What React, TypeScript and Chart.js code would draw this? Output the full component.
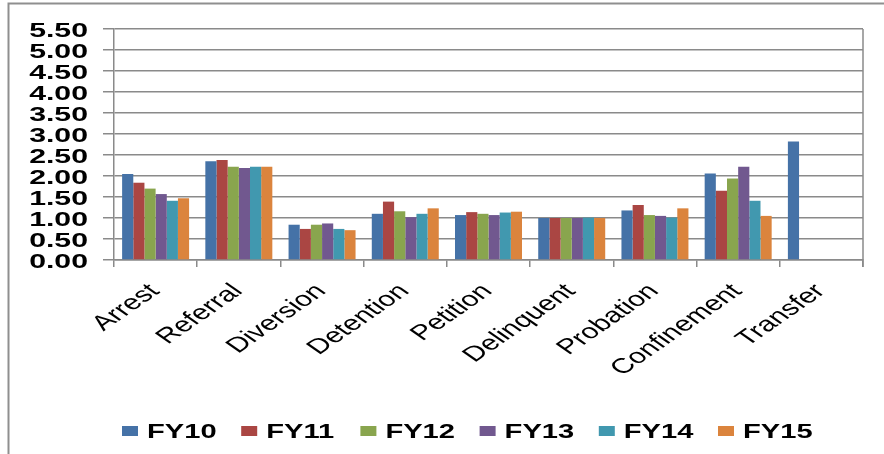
import { useEffect, useRef } from "react";
import { Chart, registerables } from "chart.js";

Chart.register(...registerables);

const categories = [
  "Arrest",
  "Referral",
  "Diversion",
  "Detention",
  "Petition",
  "Delinquent",
  "Probation",
  "Confinement",
  "Transfer",
];

const seriesNames = ["FY10", "FY11", "FY12", "FY13", "FY14", "FY15"];

const fy10 = [2.05, 2.35, 0.84, 1.1, 1.07, 1.0, 1.18, 2.06, 2.82];
const fy11 = [1.84, 2.38, 0.74, 1.39, 1.14, 1.0, 1.31, 1.65, null];
const fy12 = [1.7, 2.22, 0.84, 1.16, 1.1, 1.0, 1.07, 1.94, null];
const fy13 = [1.57, 2.19, 0.87, 1.02, 1.07, 1.0, 1.05, 2.22, null];
const fy14 = [1.41, 2.22, 0.74, 1.1, 1.13, 1.01, 1.01, 1.41, null];
const fy15 = [1.47, 2.22, 0.71, 1.23, 1.15, 1.0, 1.23, 1.05, null];

const seriesValues = [fy10, fy11, fy12, fy13, fy14, fy15];

const seriesColors = ["#4572A7", "#AA4643", "#89A54E", "#71588F", "#4198AF", "#DB843D"];

const yMin = 0;
const yMax = 5.5;
const yStep = 0.5;

const FONT = "'Liberation Sans', Arial, Helvetica, sans-serif";
const GRID = "#8a8a8a";
// the whole figure is set wide: text is drawn with this horizontal stretch
const WIDE = 1.44;

// Draws the wide-set axis labels, legend, plot border and outer frame.
const decorations = {
  id: "decorations",
  afterDraw(chart: any) {
    const ctx = chart.ctx as CanvasRenderingContext2D;
    const xs = chart.scales.x;
    const ys = chart.scales.y;
    const area = chart.chartArea;

    ctx.save();

    // right edge of the plot area
    ctx.strokeStyle = GRID;
    ctx.lineWidth = 1.5;
    ctx.beginPath();
    ctx.moveTo(area.right, area.top);
    ctx.lineTo(area.right, area.bottom + 7);
    ctx.stroke();

    // outer frame (left and top edges)
    ctx.strokeStyle = "#8f8f8f";
    ctx.lineWidth = 2;
    ctx.beginPath();
    ctx.moveTo(8.5, chart.height);
    ctx.lineTo(8.5, 3.5);
    ctx.lineTo(chart.width, 3.5);
    ctx.stroke();

    ctx.fillStyle = "#000";

    // value axis labels
    ctx.font = `bold 21px ${FONT}`;
    ctx.textAlign = "right";
    ctx.textBaseline = "alphabetic";
    ys.ticks.forEach((t: any, i: number) => {
      const py = ys.getPixelForTick(i);
      ctx.save();
      ctx.translate(88, py + 7.5);
      ctx.scale(WIDE, 1);
      ctx.fillText(Number(t.value).toFixed(2), 0, 0);
      ctx.restore();
    });

    // category labels, slanted
    ctx.font = `21px ${FONT}`;
    ctx.textAlign = "right";
    ctx.textBaseline = "alphabetic";
    categories.forEach((c, i) => {
      const px = xs.getPixelForTick(i);
      ctx.save();
      ctx.translate(px + 5, 292);
      ctx.scale(WIDE, 1);
      ctx.rotate(-Math.PI / 4);
      ctx.fillText(c, 0, 0);
      ctx.restore();
    });

    // legend
    ctx.font = `bold 20.5px ${FONT}`;
    ctx.textAlign = "left";
    ctx.textBaseline = "alphabetic";
    seriesNames.forEach((name, i) => {
      const x0 = 122 + i * 119.2;
      ctx.fillStyle = seriesColors[i];
      ctx.fillRect(x0, 426, 16, 10);
      ctx.fillStyle = "#000";
      ctx.save();
      ctx.translate(x0 + 25, 437.5);
      ctx.scale(1.42, 1);
      ctx.fillText(name, 0, 0);
      ctx.restore();
    });

    ctx.restore();
  },
};

export default function App() {
  const canvasRef = useRef<HTMLCanvasElement | null>(null);

  useEffect(() => {
    if (!canvasRef.current) return;
    const chart = new Chart(canvasRef.current, {
      type: "bar",
      data: {
        labels: categories,
        datasets: seriesNames.map((name, i) => ({
          label: name,
          data: seriesValues[i],
          backgroundColor: seriesColors[i],
          borderWidth: 0,
          barPercentage: 1,
          categoryPercentage: 0.805,
        })),
      },
      options: {
        animation: false,
        responsive: false,
        maintainAspectRatio: false,
        layout: { padding: { top: 29, right: 21, left: 0, bottom: 0 } },
        plugins: {
          legend: { display: false },
          tooltip: { enabled: false },
          title: { display: false },
        },
        scales: {
          x: {
            offset: true,
            grid: {
              offset: true,
              drawOnChartArea: false,
              drawTicks: true,
              tickLength: 7,
              color: GRID,
              lineWidth: 1.5,
            },
            border: { display: true, color: GRID, width: 1.5 },
            ticks: { display: false },
            afterFit: (s: any) => {
              s.height = 194;
            },
          },
          y: {
            min: yMin,
            max: yMax,
            grid: {
              color: GRID,
              lineWidth: 1.5,
              drawTicks: true,
              tickLength: 11,
            },
            border: { display: true, color: GRID, width: 1.5 },
            ticks: { display: false, stepSize: yStep },
            afterFit: (s: any) => {
              s.width = 114;
            },
          },
        },
      },
      plugins: [decorations],
    });
    return () => chart.destroy();
  }, []);

  return (
    <div style={{ position: "absolute", left: 0, top: 0, width: 884, height: 454, background: "#fff" }}>
      <canvas ref={canvasRef} width={884} height={454} />
    </div>
  );
}
